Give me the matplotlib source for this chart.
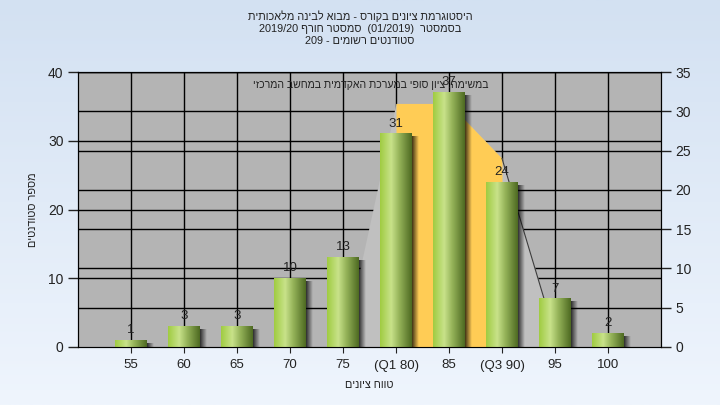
import numpy as np
from matplotlib import pyplot as plt

plt.rcParams['font.family'] = ['Liberation Sans', 'DejaVu Sans']

# grade buckets and student counts
categories = ["55", "60", "65", "70", "75", "(Q1 80)", "85", "(Q3 90)", "95", "100"]
counts = [1, 3, 3, 10, 13, 31, 37, 24, 7, 2]

# background distribution shape (right-axis units), and the Q1..Q3 part of it
area_x = [4, 5, 6, 7, 8]
area_vals = [0, 31, 31, 24, 1.5]
iqr_x = [5, 6, 7]
iqr_vals = [31, 31, 24]

left_ticks = [0, 10, 20, 30, 40]
right_ticks = [0, 5, 10, 15, 20, 25, 30, 35]

# hebrew strings, reversed for left-to-right drawing
title = ("היסטוגרמת ציונים בקורס - מבוא לבינה מלאכותית"[::-1] + "\n"
         + "2019/20 " + "סמסטר חורף"[::-1] + "  (01/2019)  " + "בסמסטר"[::-1] + "\n"
         + "209 - " + "סטודנטים רשומים"[::-1])
note = "במשימה: ציון סופי במערכת האקדמית במחשב המרכזי"[::-1]
ylab = "מספר סטודנטים"[::-1]
xlab = "טווח ציונים"[::-1]

L_MAX, R_MAX = 40, 35
k = L_MAX / R_MAX

fig = plt.figure(figsize=(7.2, 4.05), dpi=100)

# figure background gradient
bg = fig.add_axes([0, 0, 1, 1], zorder=-10)
top_c = np.array([211, 225, 242]) / 255
bot_c = np.array([239, 245, 253]) / 255
t = np.linspace(0, 1, 256)[:, None, None]
bg.imshow(top_c * (1 - t) + bot_c * t, aspect='auto', extent=[0, 1, 0, 1])
bg.axis('off')

ax = fig.add_axes([78/720, 58/405, 583/720, 275/405])
ax.set_facecolor('#b4b4b4')
ax.set_xlim(-1, len(categories))
ax.set_ylim(0, L_MAX)

# grid lines from both axes + category verticals
for v in left_ticks[1:]:
    ax.axhline(v, color='black', lw=1, zorder=1)
for v in right_ticks[1:]:
    ax.axhline(v * k, color='black', lw=1, zorder=1)
for i in range(len(categories)):
    ax.axvline(i, color='black', lw=1, zorder=1)

ax.fill_between(area_x, [v * k for v in area_vals], color='#c0c0c0', lw=0, zorder=2)
ax.fill_between(iqr_x, [v * k for v in iqr_vals], color='#ffcc55', lw=0, zorder=3)
ax.plot(area_x[-2:], [v * k for v in area_vals[-2:]], color='#3c3c3c', lw=0.8, zorder=3)

# bar gradient: light green, highlight, dark green
stops = np.array([[160, 204, 66], [200, 226, 138], [150, 180, 90], [78, 106, 34]]) / 255
pos = [0, 0.35, 0.6, 1]
xs = np.linspace(0, 1, 64)
grad = np.stack([np.interp(xs, pos, stops[:, c]) for c in range(3)], axis=-1)[None, :, :]

px_x = 583 / (len(categories) + 1)
px_y = 275 / L_MAX
w = 0.6
shadow = np.zeros((1, 32, 4))
shadow[..., 3] = np.linspace(0.75, 0, 32)
for i, v in enumerate(counts):
    sx = i + w/2
    ax.imshow(shadow, extent=[sx, sx + 7/px_x, 0, max(v - 3/px_y, 0)], aspect='auto', zorder=4)
    ax.imshow(grad, extent=[i - w/2, i + w/2, 0, v], aspect='auto', zorder=5)
    ax.annotate(str(v), (i, v), xytext=(0, 3), textcoords='offset points',
                ha='center', va='bottom', fontsize=9.5, color='#222222', zorder=7)
ax.set_xlim(-1, len(categories))
ax.set_ylim(0, L_MAX)

ax.text(4.52, 38.1, note, ha='center', va='center', fontsize=7.6, color='#222222', zorder=8)

ax.set_xticks(range(len(categories)))
ax.set_xticklabels(categories)
ax.set_yticks(left_ticks)
ax.tick_params(axis='x', length=4, pad=5, labelsize=9.5, colors='#222222')
ax.tick_params(axis='y', length=7, width=1, labelsize=10, colors='#222222')
for s in ax.spines.values():
    s.set_color('black')
ax.spines['bottom'].set_color('#404040')

ax2 = ax.twinx()
ax2.set_ylim(0, R_MAX)
ax2.set_yticks(right_ticks)
ax2.tick_params(axis='y', length=7, width=1, labelsize=10, colors='#222222')
ax2.patch.set_visible(False)

ax.set_ylabel(ylab, fontsize=7.8, color='#222222')
ax.yaxis.set_label_coords(-0.068, 0.5)
ax.set_xlabel(xlab, fontsize=7.8, color='#222222', labelpad=6)

fig.text(0.5, 1 - 10/405, title, ha='center', va='top', fontsize=7.8,
         linespacing=1.25, color='#222222')

fig.savefig('out.png', dpi=100)
